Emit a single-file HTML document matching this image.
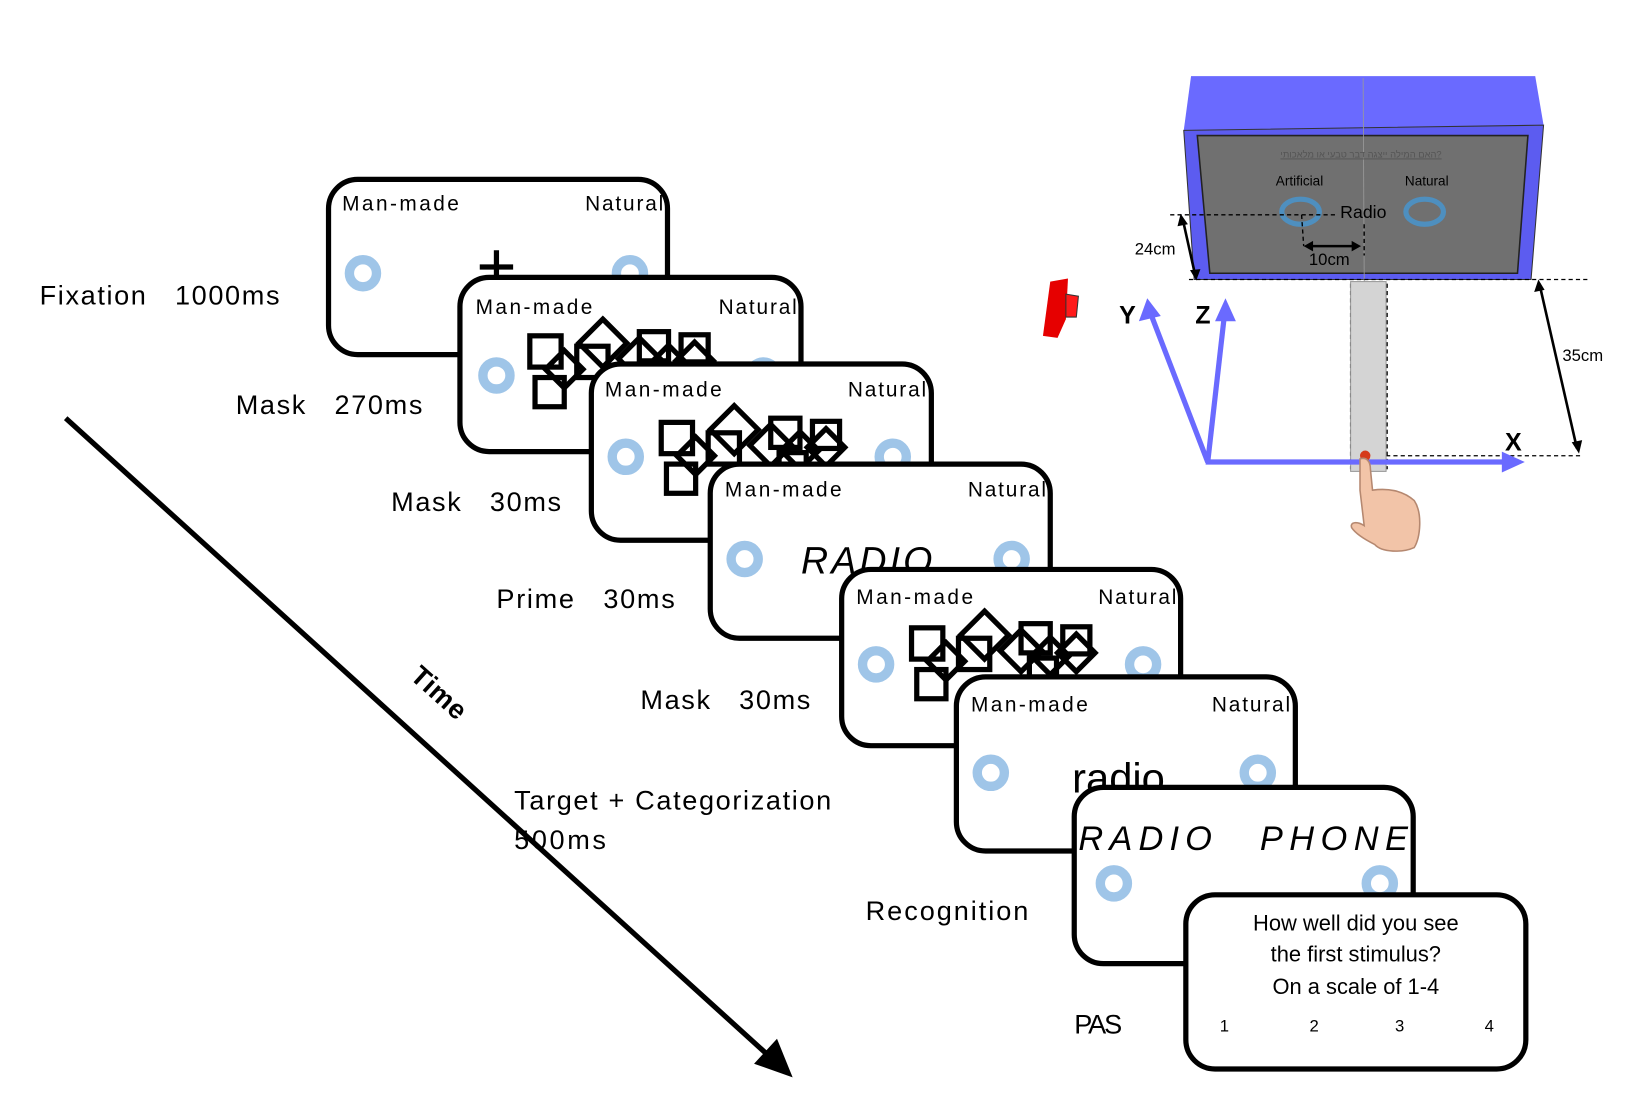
<!DOCTYPE html>
<html><head><meta charset="utf-8"><style>
html,body{margin:0;padding:0;background:#fff;}
svg{display:block;}
text{font-family:"Liberation Sans","DejaVu Sans",sans-serif;}
</style></head><body>
<svg width="1627" height="1118" viewBox="0 0 1560 1072" preserveAspectRatio="none" xmlns="http://www.w3.org/2000/svg">
<defs>
<g id="ring"><circle r="13" fill="none" stroke="#9fc5e8" stroke-width="9"/></g>
<g id="mask" fill="none" stroke="#000" stroke-width="5">
<rect x="67" y="56" width="30" height="30"/>
<rect x="72" y="96" width="28" height="28"/>
<rect x="112" y="66" width="30" height="30"/>
<rect x="172" y="52" width="28" height="28"/>
<rect x="212" y="55" width="26" height="26"/>
<rect x="180" y="85" width="26" height="26"/>
<path d="M137 40 L160 63 L137 86 L114 63 Z"/>
<path d="M172 58 L192 78 L172 98 L152 78 Z"/>
<path d="M100 70 L118 88 L100 106 L82 88 Z"/>
<path d="M225 62 L243 80 L225 98 L207 80 Z"/>
<path d="M200 65 L218 83 L200 101 L182 83 Z"/>
</g>
</defs>

<line x1="63" y1="401" x2="740" y2="1015" stroke="#000" stroke-width="5"/>
<polygon points="760,1033 723,1020 745,996" fill="#000"/>
<text x="0" y="0" font-size="26" font-weight="bold" transform="translate(392,650) rotate(42)" textLength="62">Time</text>

<g font-size="26" fill="#000">
<text x="38" y="292" textLength="230">Fixation&#160;&#160;&#160;1000ms</text>
<text x="226" y="397" textLength="179">Mask&#160;&#160;&#160;270ms</text>
<text x="375" y="490" textLength="163">Mask&#160;&#160;&#160;30ms</text>
<text x="476" y="583" textLength="171">Prime&#160;&#160;&#160;30ms</text>
<text x="614" y="680" textLength="163">Mask&#160;&#160;&#160;30ms</text>
<text x="493" y="776" textLength="304">Target + Categorization</text>
<text x="493" y="814" textLength="88">500ms</text>
<text x="830" y="882" textLength="156">Recognition</text>
<text x="1030" y="991" textLength="46">PAS</text>
</g>

<g>
<rect x="315" y="172" width="325" height="168" rx="28" fill="#fff" stroke="#000" stroke-width="5"/>
<text x="328" y="202" font-size="20" textLength="112">Man-made</text><text x="561" y="202" font-size="20" textLength="75">Natural</text>
<use href="#ring" x="348" y="262"/><use href="#ring" x="604" y="262"/>
<path d="M476 240 v26 M460 256 h32" stroke="#000" stroke-width="5"/>
</g>
<g>
<rect x="441" y="266" width="327" height="167" rx="28" fill="#fff" stroke="#000" stroke-width="5"/>
<text x="456" y="301" font-size="20" textLength="112">Man-made</text><text x="689" y="301" font-size="20" textLength="75">Natural</text>
<use href="#ring" x="476" y="360"/><use href="#ring" x="732" y="360"/>
<use href="#mask" x="441" y="266"/>
</g>
<g>
<rect x="567" y="349" width="326" height="169" rx="28" fill="#fff" stroke="#000" stroke-width="5"/>
<text x="580" y="380" font-size="20" textLength="112">Man-made</text><text x="813" y="380" font-size="20" textLength="75">Natural</text>
<use href="#ring" x="600" y="438"/><use href="#ring" x="856" y="438"/>
<use href="#mask" x="567" y="349"/>
</g>
<g>
<rect x="681" y="445" width="326" height="167" rx="28" fill="#fff" stroke="#000" stroke-width="5"/>
<text x="695" y="476" font-size="20" textLength="112">Man-made</text><text x="928" y="476" font-size="20" textLength="75">Natural</text>
<use href="#ring" x="714" y="536"/><use href="#ring" x="970" y="536"/>
<text x="768" y="550" font-size="36" font-family="Liberation Serif" font-style="italic" letter-spacing="3">RADIO</text>
</g>
<g>
<rect x="807" y="546" width="325" height="169" rx="28" fill="#fff" stroke="#000" stroke-width="5"/>
<text x="821" y="579" font-size="20" textLength="112">Man-made</text><text x="1053" y="579" font-size="20" textLength="75">Natural</text>
<use href="#ring" x="840" y="637"/><use href="#ring" x="1096" y="637"/>
<use href="#mask" x="807" y="546"/>
</g>
<g>
<rect x="917" y="649" width="325" height="167" rx="28" fill="#fff" stroke="#000" stroke-width="5"/>
<text x="931" y="682" font-size="20" textLength="112">Man-made</text><text x="1162" y="682" font-size="20" textLength="75">Natural</text>
<use href="#ring" x="950" y="741"/><use href="#ring" x="1206" y="741"/>
<text x="1028" y="760" font-size="40">radio</text>
</g>
<g>
<rect x="1030" y="755" width="325" height="169" rx="28" fill="#fff" stroke="#000" stroke-width="5"/>
<text x="1034" y="815" font-size="33" font-family="Liberation Serif" font-style="italic" textLength="128">RADIO</text>
<text x="1208" y="815" font-size="33" font-family="Liberation Serif" font-style="italic" textLength="142">PHONE</text>
<use href="#ring" x="1068" y="847"/><use href="#ring" x="1323" y="847"/>
</g>
<g>
<rect x="1137" y="858" width="326" height="167" rx="28" fill="#fff" stroke="#000" stroke-width="5"/>
<g font-size="21" text-anchor="middle">
<text x="1300" y="892">How well did you see</text>
<text x="1300" y="922">the first stimulus?</text>
<text x="1300" y="953">On a scale of 1-4</text>
</g>
<g font-size="16" text-anchor="middle">
<text x="1174" y="989">1</text><text x="1260" y="989">2</text><text x="1342" y="989">3</text><text x="1428" y="989">4</text>
</g>
</g>

<polygon points="1142,73 1472,73 1480,120 1135,125" fill="#6a6aff"/>
<polygon points="1135,125 1480,120 1468,268 1145,268" fill="#5c5cf0" stroke="#333" stroke-width="1"/>
<polygon points="1148,130 1465,130 1455,262 1160,262" fill="#707070" stroke="#222" stroke-width="1.5"/>
<line x1="1307" y1="75" x2="1309" y2="450" stroke="#999" stroke-width="0.8"/>
<text x="1305" y="151" font-size="9" fill="#555" text-anchor="middle" text-decoration="underline">האם המילה ייצגה דבר טבעי או מלאכותי?</text>
<text x="1246" y="178" font-size="13" text-anchor="middle">Artificial</text>
<text x="1368" y="178" font-size="13" text-anchor="middle">Natural</text>
<ellipse cx="1247" cy="203" rx="18" ry="12" fill="none" stroke="#4e8fbf" stroke-width="5"/>
<ellipse cx="1366" cy="203" rx="18" ry="12" fill="none" stroke="#4e8fbf" stroke-width="5"/>
<text x="1285" y="209" font-size="17">Radio</text>
<g stroke="#000" stroke-width="1.3" stroke-dasharray="4,3" fill="none">
<line x1="1122" y1="206" x2="1283" y2="206"/>
<path d="M1248 206 L1250 236 M1308 215 V245"/>
<line x1="1140" y1="268" x2="1525" y2="268"/>
<line x1="1315" y1="437" x2="1518" y2="437"/>
<path d="M1295 272 V450 M1330 272 V450"/>
</g>
<rect x="1295" y="270" width="34" height="182" fill="#d4d4d4" stroke="#999" stroke-width="1"/>
<path d="M1255 236 H1300" stroke="#000" stroke-width="2.5"/>
<polygon points="1250,236 1259,231 1259,241" fill="#000"/><polygon points="1305,236 1296,231 1296,241" fill="#000"/>
<text x="1255" y="254" font-size="16">10cm</text>
<line x1="1134" y1="210" x2="1146" y2="264" stroke="#000" stroke-width="2.5"/>
<polygon points="1132,205 1129,217 1139,215" fill="#000"/><polygon points="1147,269 1141,259 1151,258" fill="#000"/>
<text x="1088" y="244" font-size="16">24cm</text>
<line x1="1476" y1="272" x2="1512" y2="430" stroke="#000" stroke-width="2.5"/>
<polygon points="1475,268 1471,280 1481,278" fill="#000"/><polygon points="1514,435 1507,424 1517,422" fill="#000"/>
<text x="1498" y="346" font-size="16">35cm</text>
<g stroke="#6a6aff" stroke-width="5" fill="none">
<path d="M1158 443 L1103 300"/><path d="M1158 443 L1174 302"/><path d="M1156 443 H1445"/>
</g>
<polygon points="1100,286 1092,308 1113,303" fill="#6a6aff"/>
<polygon points="1175,286 1165,308 1185,308" fill="#6a6aff"/>
<polygon points="1462,443 1440,433 1440,453" fill="#6a6aff"/>
<text x="1073" y="310" font-size="24" font-weight="bold">Y</text>
<text x="1146" y="310" font-size="24" font-weight="bold">Z</text>
<text x="1443" y="432" font-size="24" font-weight="bold">X</text>
<circle cx="1309" cy="437" r="5" fill="#d63a1a"/>
<path d="M1304 440 C1310 438 1314 442 1314 450 L1316 470 C1330 468 1345 470 1356 480 C1364 492 1362 515 1356 525 C1345 530 1325 530 1318 522 C1310 518 1300 512 1296 506 C1294 500 1302 500 1308 504 L1304 470 Z" fill="#f2c4a8" stroke="#b58870" stroke-width="1.5"/>
<polygon points="1007,270 1024,267 1022,306 1014,324 1000,322" fill="#e60000"/>
<polygon points="1022,282 1034,284 1032,304 1022,304" fill="#ff1a1a" stroke="#333" stroke-width="1"/>
</svg>
</body></html>
